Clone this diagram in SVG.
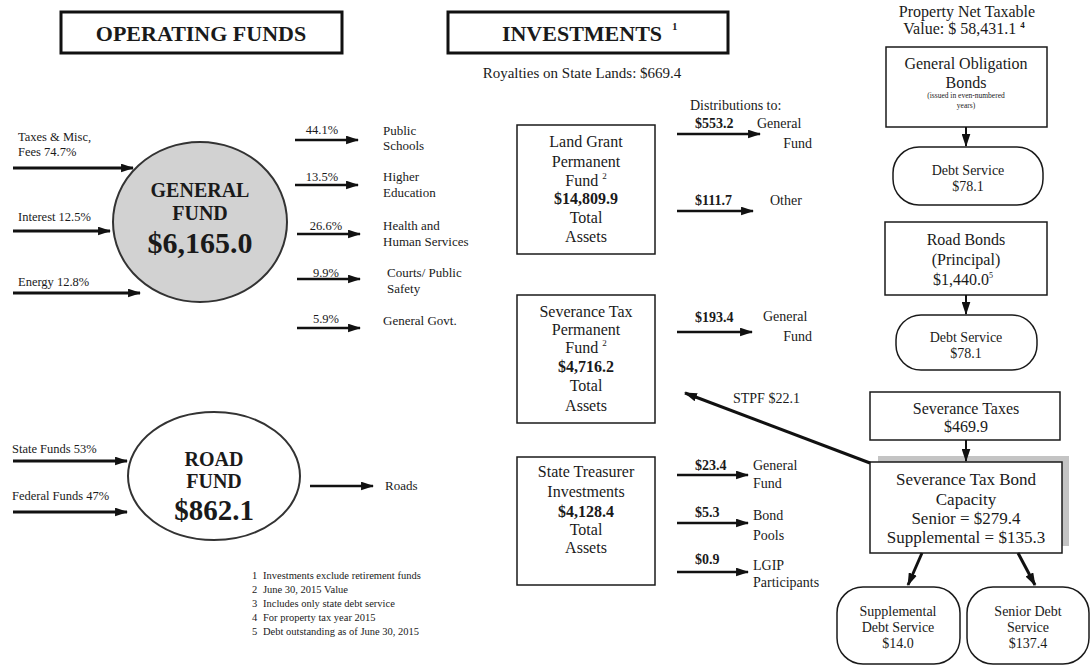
<svg xmlns="http://www.w3.org/2000/svg" width="1091" height="666" viewBox="0 0 1091 666">
<style>
text{font-family:"Liberation Serif","Times New Roman",serif;fill:#1a1a1a}
.hd{font-size:22px;font-weight:bold;text-anchor:middle}
.b{stroke:#1a1a1a;stroke-width:1.5;fill:#fff}
.hb{stroke:#111;stroke-width:3;fill:#fff}
.c{text-anchor:middle}
.bx{font-size:16px}
.sm{font-size:12.5px}
.md{font-size:13px}
.pl{font-size:14px}
.dl{font-size:14px}
.bo{font-weight:bold}
.fn{font-size:10.5px}
.ln{stroke:#111;fill:none}
.t3{stroke-width:3}
.t25{stroke-width:2.5}
</style>
<defs>
<marker id="ah" viewBox="0 0 12 8" refX="11" refY="4" markerWidth="13" markerHeight="9" markerUnits="userSpaceOnUse" orient="auto">
<path d="M0,0 L12,4 L0,8 z" fill="#111"/>
</marker>
</defs>
<rect width="1091" height="666" fill="#fff"/>

<g id="hdr-operating">
<rect class="hb" x="61" y="12" width="281" height="41"/>
<text class="hd" x="201" y="41">OPERATING FUNDS</text>
</g>
<g id="hdr-investments">
<rect class="hb" x="448" y="12" width="280" height="41"/>
<text class="hd" x="582" y="41">INVESTMENTS</text>
<text x="672" y="30" font-size="11" font-weight="bold">1</text>
<text class="c" x="582" y="78" font-size="15">Royalties on State Lands: $669.4</text>
</g>

<g id="general-fund">
<ellipse cx="200" cy="222" rx="87" ry="80" fill="#d2d2d2" stroke="#333" stroke-width="2"/>
<text class="c bo" x="200" y="197" font-size="20">GENERAL</text>
<text class="c bo" x="200" y="220" font-size="20">FUND</text>
<text class="c bo" x="200" y="253" font-size="30">$6,165.0</text>
</g>
<g id="gf-inputs" class="sm">
<text x="18" y="141">Taxes &amp; Misc,</text>
<text x="18" y="156">Fees 74.7%</text>
<text x="18" y="221">Interest 12.5%</text>
<text x="18" y="286">Energy 12.8%</text>
</g>
<g id="gf-outputs">
<text class="c sm" x="322" y="134">44.1%</text>
<text class="c sm" x="322" y="181">13.5%</text>
<text class="c sm" x="326" y="230">26.6%</text>
<text class="c sm" x="326" y="277">9.9%</text>
<text class="c sm" x="326" y="323">5.9%</text>
<text class="md" x="383" y="135">Public</text>
<text class="md" x="383" y="150">Schools</text>
<text class="md" x="383" y="181">Higher</text>
<text class="md" x="383" y="197">Education</text>
<text class="md" x="383" y="230">Health and</text>
<text class="md" x="383" y="246">Human Services</text>
<text class="md" x="387" y="277">Courts/ Public</text>
<text class="md" x="387" y="293">Safety</text>
<text class="md" x="383" y="325">General Govt.</text>
</g>

<g id="road-fund">
<ellipse cx="214" cy="476" rx="86" ry="64" fill="#fff" stroke="#333" stroke-width="2"/>
<text class="c bo" x="214" y="466" font-size="20">ROAD</text>
<text class="c bo" x="214" y="488" font-size="20">FUND</text>
<text class="c bo" x="214" y="520" font-size="29">$862.1</text>
</g>
<g id="rf-labels">
<text class="sm" x="12" y="453">State Funds 53%</text>
<text class="sm" x="12" y="500">Federal Funds 47%</text>
<text class="md" x="385" y="490">Roads</text>
</g>

<g id="land-grant">
<rect class="b" x="517" y="125" width="138" height="129"/>
<text class="c bx" x="586" y="147">Land Grant</text>
<text class="c bx" x="586" y="167">Permanent</text>
<text class="c bx" x="586" y="186">Fund <tspan font-size="9" dy="-7">2</tspan></text>
<text class="c bx bo" x="586" y="204">$14,809.9</text>
<text class="c bx" x="586" y="223">Total</text>
<text class="c bx" x="586" y="242">Assets</text>
</g>
<g id="severance-perm">
<rect class="b" x="517" y="295" width="138" height="128"/>
<text class="c bx" x="586" y="317">Severance Tax</text>
<text class="c bx" x="586" y="335">Permanent</text>
<text class="c bx" x="586" y="353">Fund <tspan font-size="9" dy="-7">2</tspan></text>
<text class="c bx bo" x="586" y="372">$4,716.2</text>
<text class="c bx" x="586" y="391">Total</text>
<text class="c bx" x="586" y="411">Assets</text>
</g>
<g id="state-treasurer">
<rect class="b" x="517" y="457" width="138" height="128"/>
<text class="c bx" x="586" y="477">State Treasurer</text>
<text class="c bx" x="586" y="497">Investments</text>
<text class="c bx bo" x="586" y="517">$4,128.4</text>
<text class="c bx" x="586" y="535">Total</text>
<text class="c bx" x="586" y="553">Assets</text>
</g>
<g id="distributions" class="dl">
<text x="690" y="110">Distributions to:</text>
<text class="bo" x="695" y="128">$553.2</text>
<text x="757" y="128">General</text>
<text x="812" y="148" text-anchor="end">Fund</text>
<text class="bo" x="695" y="205">$111.7</text>
<text x="770" y="205">Other</text>
<text class="bo" x="695" y="322">$193.4</text>
<text x="763" y="321">General</text>
<text x="812" y="341" text-anchor="end">Fund</text>
<text class="bo" x="695" y="470">$23.4</text>
<text x="753" y="470">General</text>
<text x="753" y="488">Fund</text>
<text class="bo" x="695" y="517">$5.3</text>
<text x="753" y="520">Bond</text>
<text x="753" y="540">Pools</text>
<text class="bo" x="695" y="564">$0.9</text>
<text x="753" y="570">LGIP</text>
<text x="753" y="587">Participants</text>
<text x="733" y="403">STPF $22.1</text>
</g>

<g id="property-value">
<text class="c bx" x="967" y="17">Property Net Taxable</text>
<text class="c bx" x="964" y="34">Value: $ 58,431.1 <tspan font-size="9" font-weight="bold" dy="-6">4</tspan></text>
</g>
<g id="go-bonds">
<rect class="b" x="886" y="47" width="161" height="80"/>
<text class="c bx" x="966" y="69">General Obligation</text>
<text class="c bx" x="966" y="88">Bonds</text>
<text class="c" x="966" y="98" font-size="7.5">(issued in even-numbered</text>
<text class="c" x="966" y="108" font-size="7.5">years)</text>
</g>
<g id="debt-service-1">
<rect class="b" x="893" y="147" width="150" height="58" rx="26"/>
<text class="c pl" x="968" y="175">Debt Service</text>
<text class="c pl" x="968" y="191">$78.1</text>
</g>
<g id="road-bonds">
<rect class="b" x="885" y="222" width="162" height="73"/>
<text class="c bx" x="966" y="245">Road Bonds</text>
<text class="c bx" x="966" y="265">(Principal)</text>
<text class="c bx" x="963" y="285">$1,440.0<tspan font-size="8" dy="-7">5</tspan></text>
</g>
<g id="debt-service-2">
<rect class="b" x="896" y="315" width="141" height="55" rx="25"/>
<text class="c pl" x="966" y="342">Debt Service</text>
<text class="c pl" x="966" y="358">$78.1</text>
</g>
<g id="severance-taxes">
<rect class="b" x="870" y="392" width="190" height="48"/>
<text class="c bx" x="966" y="414">Severance Taxes</text>
<text class="c bx" x="966" y="432">$469.9</text>
</g>
<g id="bond-capacity">
<rect x="878" y="456" width="191" height="90" fill="#c4c4c4"/>
<rect class="b" x="870" y="462" width="192" height="91"/>
<text class="c" x="966" y="485" font-size="17">Severance Tax Bond</text>
<text class="c" x="966" y="505" font-size="17">Capacity</text>
<text class="c" x="966" y="524" font-size="17">Senior = $279.4</text>
<text class="c" x="966" y="543" font-size="17">Supplemental = $135.3</text>
</g>
<g id="supp-debt">
<rect class="b" x="837" y="587" width="123" height="77" rx="26"/>
<text class="c pl" x="898" y="616">Supplemental</text>
<text class="c pl" x="898" y="632">Debt Service</text>
<text class="c pl" x="898" y="648">$14.0</text>
</g>
<g id="senior-debt">
<rect class="b" x="967" y="587" width="122" height="77" rx="26"/>
<text class="c pl" x="1028" y="616">Senior Debt</text>
<text class="c pl" x="1028" y="632">Service</text>
<text class="c pl" x="1028" y="648">$137.4</text>
</g>

<g id="footnotes" class="fn">
<text x="252" y="579">1</text><text x="263" y="579">Investments exclude retirement funds</text>
<text x="252" y="593">2</text><text x="263" y="593">June 30, 2015 Value</text>
<text x="252" y="607">3</text><text x="263" y="607">Includes only state debt service</text>
<text x="252" y="621">4</text><text x="263" y="621">For property tax year 2015</text>
<text x="252" y="635">5</text><text x="263" y="635">Debt outstanding as of June 30, 2015</text>
</g>

<g id="connectors" class="ln">
<line class="t3" x1="13" y1="168" x2="133" y2="168" marker-end="url(#ah)"/>
<line class="t3" x1="13" y1="231" x2="110" y2="231" marker-end="url(#ah)"/>
<line class="t3" x1="13" y1="293" x2="140" y2="293" marker-end="url(#ah)"/>
<line class="t25" x1="295" y1="140" x2="358" y2="140" marker-end="url(#ah)"/>
<line class="t25" x1="295" y1="185" x2="358" y2="185" marker-end="url(#ah)"/>
<line class="t25" x1="297" y1="234" x2="360" y2="234" marker-end="url(#ah)"/>
<line class="t25" x1="297" y1="279" x2="360" y2="279" marker-end="url(#ah)"/>
<line class="t25" x1="297" y1="328" x2="360" y2="328" marker-end="url(#ah)"/>
<line class="t3" x1="13" y1="461" x2="127" y2="461" marker-end="url(#ah)"/>
<line class="t3" x1="13" y1="512" x2="127" y2="512" marker-end="url(#ah)"/>
<line class="t25" x1="310" y1="486" x2="373" y2="486" marker-end="url(#ah)"/>
<line class="t25" x1="677" y1="134" x2="760" y2="134" marker-end="url(#ah)"/>
<line class="t25" x1="677" y1="211" x2="753" y2="211" marker-end="url(#ah)"/>
<line class="t25" x1="677" y1="332" x2="752" y2="332" marker-end="url(#ah)"/>
<line class="t25" x1="677" y1="475" x2="748" y2="475" marker-end="url(#ah)"/>
<line class="t25" x1="677" y1="523" x2="748" y2="523" marker-end="url(#ah)"/>
<line class="t25" x1="677" y1="572" x2="748" y2="572" marker-end="url(#ah)"/>
<line class="t3" x1="870" y1="463" x2="685" y2="393" marker-end="url(#ah)"/>
<line stroke-width="2" x1="966" y1="127" x2="966" y2="146" marker-end="url(#ah)"/>
<line stroke-width="2" x1="966" y1="295" x2="966" y2="314" marker-end="url(#ah)"/>
<line stroke-width="2" x1="966" y1="440" x2="966" y2="461" marker-end="url(#ah)"/>
<line class="t3" x1="922" y1="553" x2="908" y2="585" marker-end="url(#ah)"/>
<line class="t3" x1="1018" y1="553" x2="1035" y2="585" marker-end="url(#ah)"/>
</g>
</svg>
